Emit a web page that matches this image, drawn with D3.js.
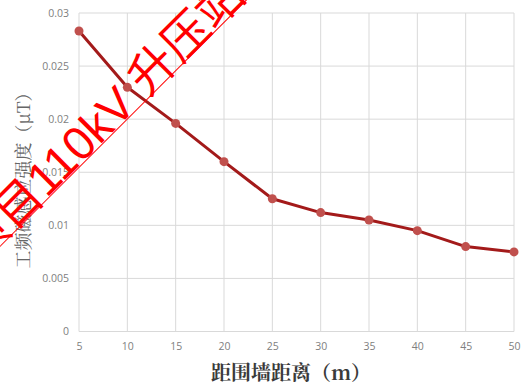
<!DOCTYPE html>
<html><head><meta charset="utf-8">
<script src="https://cdn.jsdelivr.net/npm/d3@7"></script>
<style>
html,body{margin:0;padding:0;background:#fff;}
svg{display:block;}
</style></head>
<body>
<svg id="chart" width="526" height="387"></svg>
<script>
const distances = [5, 10, 15, 20, 25, 30, 35, 40, 45, 50];
const fieldValues = [0.0283, 0.0230, 0.0196, 0.0160, 0.0125, 0.0112, 0.0105, 0.0095, 0.0080, 0.0075];
const xTicks = [5, 10, 15, 20, 25, 30, 35, 40, 45, 50];
const yTicks = [0, 0.005, 0.01, 0.015, 0.02, 0.025, 0.03];
const xTitle = "距围墙距离（m）";
const yTitle = "工频磁感应强度（μT）";
const watermark = "项目110kV 升压站";

const svg = d3.select("#chart");
const x = d3.scaleLinear().domain([5, 50]).range([79, 514]);
const y = d3.scaleLinear().domain([0, 0.03]).range([331.5, 13]);

// grid
svg.append("g").selectAll("line").data(xTicks).join("line")
  .attr("x1", d => x(d)).attr("x2", d => x(d))
  .attr("y1", y(0.03)).attr("y2", y(0))
  .attr("stroke", "#d9d9d9").attr("stroke-width", 1);
svg.append("g").selectAll("line").data(yTicks).join("line")
  .attr("x1", x(5)).attr("x2", x(50))
  .attr("y1", d => y(d)).attr("y2", d => y(d))
  .attr("stroke", "#d9d9d9").attr("stroke-width", 1);

// axes labels via d3 axes
const xAxis = svg.append("g").attr("transform", `translate(0,${y(0) + 8})`)
  .call(d3.axisBottom(x).tickValues(xTicks).tickSize(0).tickFormat(d3.format("d")));
xAxis.select(".domain").remove();
xAxis.selectAll("text").attr("fill", "#808080").style("font-family", "'Open Sans', 'Liberation Sans', sans-serif").style("font-size", "10.5px");

const yAxis = svg.append("g").attr("transform", `translate(${x(5) - 7},0)`)
  .call(d3.axisLeft(y).tickValues(yTicks).tickSize(0).tickFormat(d => d === 0 ? "0" : String(+d.toFixed(3))));
yAxis.select(".domain").remove();
yAxis.selectAll("text").attr("fill", "#808080").style("font-family", "'Open Sans', 'Liberation Sans', sans-serif").style("font-size", "10.5px");

// titles
svg.append("text").attr("x", 291).attr("y", 380).attr("text-anchor", "middle")
  .attr("fill", "#3a3a3a").style("font-family", "'Noto Serif CJK SC','Noto Sans CJK SC', serif")
  .style("font-size", "20px").style("font-weight", "bold").text(xTitle);
svg.append("text").attr("transform", "translate(30,176) rotate(-90)").attr("text-anchor", "middle")
  .attr("fill", "#666").style("font-family", "'Noto Serif CJK SC','Noto Sans CJK SC', serif")
  .style("font-size", "18px").text(yTitle);

// line
const data = distances.map((d, i) => ({d, v: fieldValues[i]}));
svg.append("path").datum(data)
  .attr("fill", "none").attr("stroke", "#a31a1a").attr("stroke-width", 3)
  .attr("stroke-linejoin", "round")
  .attr("d", d3.line().x(p => x(p.d)).y(p => y(p.v)));
svg.append("g").selectAll("circle").data(data).join("circle")
  .attr("cx", p => x(p.d)).attr("cy", p => y(p.v)).attr("r", 4.5)
  .attr("fill", "#c0504d");

// watermark
const wm = svg.append("g").attr("transform", "translate(-20,265) rotate(-45)");
wm.append("text").attr("x", 0).attr("y", 0)
  .attr("fill", "#ff0000").style("font-family", "'Liberation Sans','Noto Sans CJK SC', sans-serif")
  .style("font-size", "47px").text(watermark);
wm.append("line").attr("x1", 0).attr("x2", 420).attr("y1", 1).attr("y2", 1)
  .attr("stroke", "#ff0000").attr("stroke-width", 1);
</script>
</body></html>
